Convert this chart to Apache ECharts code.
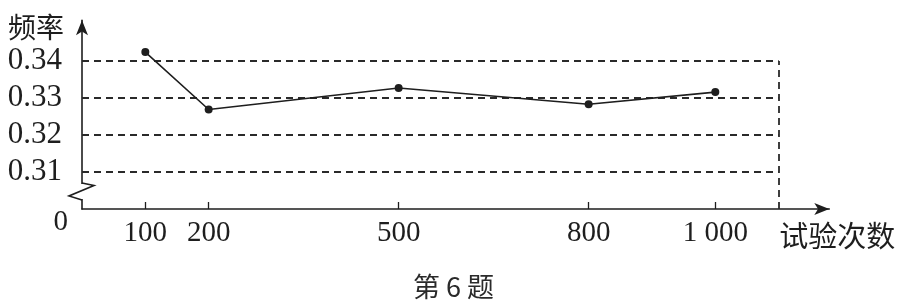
<!DOCTYPE html>
<html>
<head>
<meta charset="utf-8">
<script src="https://cdn.jsdelivr.net/npm/echarts@6/dist/echarts.min.js"></script>
<style>
html,body{margin:0;padding:0;background:#fff;}
#c{width:907px;height:308px;}
</style>
</head>
<body>
<div id="c"></div>
<script>
// ---- data ----
var trials = [100, 200, 500, 800, 1000];
var freqs = [0.3424, 0.3269, 0.3327, 0.3283, 0.3316];
var xTickLabels = ['100', '200', '500', '800', '1 000'];
var yTickValues = [0.30, 0.31, 0.32, 0.33, 0.34];
var yTickLabels = ['0', '0.31', '0.32', '0.33', '0.34'];
var gridValues = [0.31, 0.32, 0.33, 0.34];
var boxEnd = 1100;
var yName = '频率';
var xName = '试验次数';
var caption = '第 6 题';

var ink = '#1e1e1e';
var serif = '"Liberation Serif","DejaVu Serif",serif';
var cjk = '"Noto Sans CJK SC","Noto Sans CJK JP",sans-serif';

var markData = gridValues.map(function (v) {
  return [{ coord: [0, v] }, { coord: [boxEnd, v] }];
});
markData.push([{ coord: [boxEnd, yTickValues[0]] }, { coord: [boxEnd, gridValues[gridValues.length - 1]] }]);

var chart = echarts.init(document.getElementById('c'), null, { renderer: 'canvas' });
chart.setOption({
  animation: false,
  backgroundColor: '#fff',
  title: {
    text: caption,
    left: 'center',
    top: 273,
    padding: 0,
    textStyle: { fontFamily: cjk, fontSize: 27, fontWeight: 'normal', color: '#2a2a2a' }
  },
  grid: { left: 82, right: 77.7, top: 20.3, bottom: 99, containLabel: false },
  xAxis: {
    type: 'value',
    min: 0,
    max: 1180,
    name: xName,
    nameLocation: 'end',
    nameGap: 8,
    nameTextStyle: {
      fontFamily: cjk, fontSize: 29, color: ink,
      align: 'center', verticalAlign: 'top', padding: [12, 0, 0, 0]
    },
    axisLine: {
      show: true,
      lineStyle: { color: ink, width: 1.6 },
      symbol: ['none', 'arrow'],
      symbolSize: [9, 15]
    },
    axisTick: {
      show: true, inside: true, length: 7,
      customValues: trials,
      lineStyle: { color: ink, width: 1.3 }
    },
    axisLabel: {
      show: true,
      customValues: trials,
      margin: 10,
      fontFamily: serif, fontSize: 29, color: ink,
      formatter: function (v) {
        var i = trials.indexOf(v);
        return i >= 0 ? xTickLabels[i] : '';
      }
    },
    splitLine: { show: false }
  },
  yAxis: {
    type: 'value',
    min: 0.30,
    max: 0.351,
    interval: 0.01,
    name: yName,
    nameLocation: 'end',
    nameGap: -7,
    nameTextStyle: {
      fontFamily: cjk, fontSize: 28, color: ink,
      align: 'right', verticalAlign: 'middle', padding: [0, 18, 0, 0]
    },
    axisLine: {
      show: true,
      lineStyle: { color: ink, width: 1.6 },
      symbol: ['none', 'arrow'],
      symbolSize: [9, 15]
    },
    axisTick: { show: false },
    axisLabel: {
      show: true,
      customValues: yTickValues,
      margin: 14,
      color: ink,
      formatter: function (v) {
        for (var i = 0; i < yTickValues.length; i++) {
          if (Math.abs(yTickValues[i] - v) < 1e-6) {
            return i === 0 ? '{z|' + yTickLabels[i] + '}' : '{a|' + yTickLabels[i] + '}';
          }
        }
        return '';
      },
      rich: {
        a: { fontFamily: serif, fontSize: 31, color: ink, padding: [0, 6, 0, 0] },
        z: { fontFamily: serif, fontSize: 29, color: ink, padding: [26, 0, 0, 0] }
      }
    },
    splitLine: { show: false }
  },
  series: [{
    type: 'line',
    data: trials.map(function (t, i) { return [t, freqs[i]]; }),
    symbol: 'circle',
    symbolSize: 8,
    itemStyle: { color: ink },
    lineStyle: { color: ink, width: 1.6 },
    z: 5,
    markLine: {
      silent: true,
      symbol: ['none', 'none'],
      label: { show: false },
      lineStyle: { color: '#2a2a2a', width: 1.8, type: [7, 5] },
      emphasis: { disabled: true },
      data: markData
    }
  }],
  graphic: [
    { type: 'rect', z: 100, shape: { x: 79, y: 184, width: 6, height: 15 }, style: { fill: '#fff' } },
    {
      type: 'polyline', z: 101,
      shape: { points: [[82, 183], [94, 185.5], [69, 196], [82, 200]] },
      style: { stroke: ink, lineWidth: 1.6, fill: null }
    }
  ]
});
</script>
</body>
</html>
